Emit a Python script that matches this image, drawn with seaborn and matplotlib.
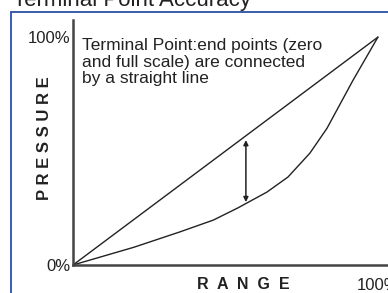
import pandas as pd
import matplotlib
matplotlib.use("Agg")
import matplotlib.pyplot as plt
import seaborn as sns
from matplotlib.patches import Rectangle


# Chart data (percent of full scale)
line_range = [0, 100]
line_pressure = [0, 100]

curve_range = [0, 20, 35, 46, 54, 63.6, 70.5, 77.7, 83.3, 91.8, 100]
curve_pressure = [0, 7.8, 14.5, 19.7, 25, 32, 38.6, 49.1, 60, 81, 100]

arrow_range = 56.7
arrow_top = 54.8
arrow_bottom = 27.6

y_ticks = [0, 100]
y_labels = ["0%", "100%"]
x_ticks = [100]
x_labels = ["100%"]

note = "Terminal Point:end points (zero\nand full scale) are connected\nby a straight line"
title = "Terminal Point Accuracy"

straight = pd.DataFrame({"Range": line_range, "Pressure": line_pressure})
actual = pd.DataFrame({"Range": curve_range, "Pressure": curve_pressure})


sns.set_style("white")
plt.rcParams["font.family"] = ["Liberation Sans", "DejaVu Sans"]

fig = plt.figure(figsize=(3.88, 2.93), dpi=100)
ax = fig.add_axes([73 / 388, 28 / 293, 1 - 73 / 388, 245 / 293])

sns.lineplot(data=straight, x="Range", y="Pressure", ax=ax,
             color="#222222", linewidth=1.0)
sns.lineplot(data=actual, x="Range", y="Pressure", ax=ax,
             color="#222222", linewidth=1.0)

# vertical error arrow
ax.annotate("", xy=(arrow_range, arrow_top), xytext=(arrow_range, arrow_bottom),
            arrowprops=dict(arrowstyle="<|-|>", color="#222222", lw=1.1,
                            mutation_scale=7, shrinkA=0, shrinkB=0))

ax.set_xlim(0, 103.3)
ax.set_ylim(0, 107.5)

ax.set_yticks(y_ticks)
ax.set_yticklabels(y_labels, fontsize=12)
ax.set_xticks(x_ticks)
ax.set_xticklabels(x_labels, fontsize=12)
ax.tick_params(axis="y", length=0, pad=2, colors="#222222")
ax.tick_params(axis="x", length=0, pad=9, colors="#222222")

ax.set_xlabel("R  A  N  G  E", fontsize=11.5, fontweight="bold", color="#222222")
ax.xaxis.set_label_coords((243 - 73) / 315, -0.05)
ax.set_ylabel("P R E S S U R E", fontsize=12, fontweight="bold", color="#222222")
ax.yaxis.set_label_coords(-(73 - 52) / 315, (265 - 138) / 245)

for side in ["top", "right"]:
    ax.spines[side].set_visible(False)
for side in ["left", "bottom"]:
    ax.spines[side].set_color("#444444")
    ax.spines[side].set_linewidth(1.8)

ax.text(0.03, 0.925, note, transform=ax.transAxes, fontsize=12.5,
        va="top", ha="left", color="#222222", linespacing=1.12)

# outer blue frame, partly cut off by the image edge
fig.patches.append(Rectangle((11 / 388, -0.1), 1.2, 1.1 - 12 / 293,
                             transform=fig.transFigure, fill=False,
                             edgecolor="#2b4fa8", linewidth=1.3))
fig.text(13 / 388, 1 - 6 / 293, title, fontsize=16, va="baseline",
         ha="left", color="#222222")

fig.savefig("out.png", dpi=100)
